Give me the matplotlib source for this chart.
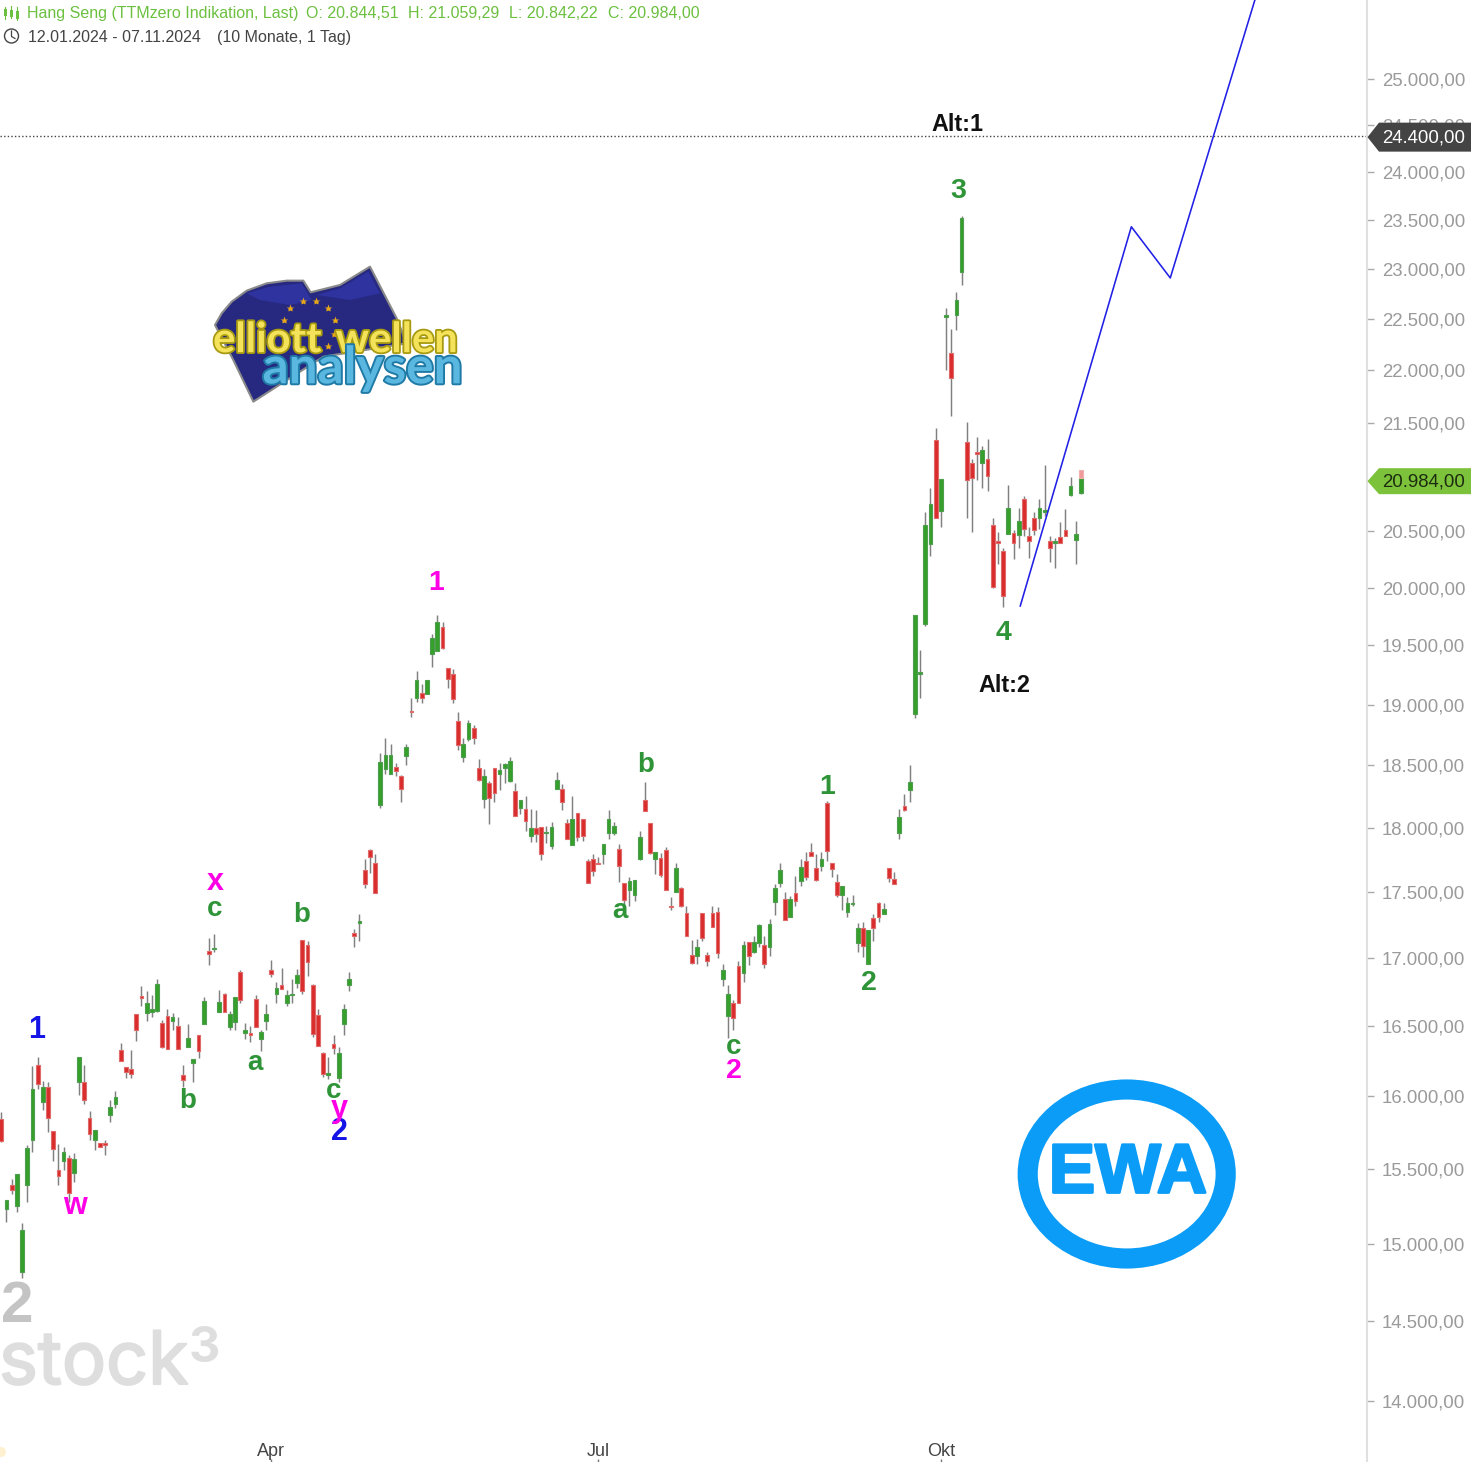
import numpy as np
import matplotlib
matplotlib.use("Agg")
import matplotlib.pyplot as plt
from matplotlib.patches import Polygon, Ellipse, Circle
from matplotlib.transforms import Affine2D
import matplotlib.patheffects as pe

W, H = 1471, 1462
plt.rcParams['font.family'] = ['Liberation Sans', 'DejaVu Sans']

highs = [15890,15293,15433,15465,15133,15660,16218,16282,16106,16100,15757,15673,15650,15597,15609,16282,16225,15897,15764,15680,15695,15972,16035,16380,16207,16330,16589,16792,16760,16725,16848,16545,16625,16596,16566,16225,16514,16268,16436,16717,17153,17184,16768,16746,16611,16710,16914,
16522,16500,16725,16472,16662,16989,16826,16929,16768,16848,16922,17140,17126,16811,16625,16317,16282,16436,16353,16662,16899,17221,17330,17754,17835,17795,
18602,18724,18675,18520,18423,18675,19057,19280,19170,19205,19597,19760,19697,19305,19297,18942,18724,18870,18830,18552,18468,18375,18478,18520,18520,18565,18358,18220,18252,18146,18138,18010,18016,18050,18447,18350,18073,18252,18122,18073,17754,17798,17775,17874,18138,
18050,17874,17568,17615,17592,17978,18367,18040,17814,17805,17850,17462,17725,17538,17395,17138,17145,17342,17047,17395,17385,16960,16803,16695,16981,17126,17124,17163,17258,17168,17295,17561,17725,17500,17470,17625,
17758,17810,17882,17798,17810,18212,17725,17637,17545,17462,17477,17266,17273,17214,17333,17425,17418,17685,17652,18146,18268,18504,
19760,19458,20673,20897,21454,20973,22605,22400,22765,23540,21510,21157,21368,21282,21350,20618,20490,20355,20925,20510,20708,20817,20536,20673,20790,21101,20455,20436,20580,20699,20993,20590,21059]
lows = [15685,15140,15327,15207,14775,15273,15618,16049,15903,15750,15554,15393,15493,15273,15413,16007,15945,15695,15632,15650,15597,15825,15922,16253,16130,16130,16394,16648,16537,16566,16603,16345,16338,16472,16338,16070,16353,16099,16275,16514,16952,17049,16603,16603,16472,16472,16672,
16408,16387,16493,16324,16472,16860,16672,16775,16648,16672,16782,16738,16870,16422,16360,16140,16120,16303,16099,16436,16760,17085,17126,17530,17645,17492,
18154,18431,18431,18415,18203,18504,18895,19025,19017,19085,19312,19455,19470,19135,19010,18626,18528,18700,18675,18375,18154,18031,18203,18301,18358,18367,18092,18114,17978,17890,17890,17750,17882,17835,18309,18138,17914,17866,17898,17898,17568,17625,17715,17715,17914,
17945,17578,17397,17397,17431,17750,18130,17798,17637,17615,17515,17365,17500,17385,17163,16960,16960,17126,16945,17231,17002,16792,16415,16472,16672,16826,16952,17039,17085,16929,17018,17325,17538,17287,17311,17397,
17545,17592,17780,17584,17660,17738,17615,17462,17365,17311,17395,17049,17011,16960,17126,17273,17333,17576,17561,17914,18130,18203,
18885,19059,19670,20280,20618,20537,22008,21566,22392,22840,20618,20490,20965,20897,20863,20000,20212,19827,20480,20257,20355,20455,20266,20464,20518,20636,20230,20177,20392,20455,20820,20212,20842]
opens = [15845,15227,15393,15247,14814,15393,15695,16225,15958,16070,15757,15493,15556,15576,15473,16099,16099,15847,15695,15680,15680,15868,15944,16330,16207,16197,16589,16722,16596,16603,16614,16522,16574,16537,16500,16148,16353,16239,16436,16514,17056,17071,16603,16738,16495,16530,16899,
16450,16450,16702,16408,16537,16914,16738,16803,16672,16731,16818,17140,17102,16803,16581,16310,16148,16373,16130,16514,16803,17191,17266,17668,17830,17725,
18179,18472,18431,18488,18415,18579,18943,19059,19093,19085,19430,19455,19660,19305,19255,18868,18568,18716,18807,18478,18228,18358,18478,18431,18480,18375,18293,18154,18146,17937,18000,18010,17960,17858,18309,18309,18040,17866,18122,18073,17738,17754,17725,17798,17962,
17962,17835,17568,17515,17477,17754,18223,18040,17754,17767,17828,17397,17500,17530,17342,17025,17018,17342,17025,17342,17350,16848,16574,16672,16945,16892,17124,17049,17116,17102,17085,17423,17568,17451,17311,17497,
17584,17740,17810,17685,17700,18195,17725,17576,17476,17345,17410,17116,17229,16960,17303,17418,17333,17685,17600,17961,18170,18301,
18920,19255,19680,20384,21335,20682,22520,22167,22545,22970,21320,21128,21228,21120,21157,20555,20418,20320,20480,20482,20464,20790,20455,20618,20618,20673,20410,20400,20446,20510,20830,20427,20844]
closes = [15690,15293,15355,15465,15093,15639,16049,16091,16070,15847,15635,15453,15618,15340,15569,16282,15975,15736,15764,15650,15665,15929,15993,16253,16172,16155,16472,16707,16670,16625,16811,16353,16338,16566,16338,16113,16415,16268,16324,16687,17034,17079,16680,16603,16589,16710,16695,
16472,16436,16493,16458,16589,16884,16782,16775,16725,16738,16877,16760,16973,16443,16360,16155,16162,16345,16310,16625,16848,17168,17282,17561,17775,17492,
18528,18587,18587,18455,18309,18650,18935,19205,19059,19205,19560,19705,19480,19212,19050,18667,18675,18845,18724,18383,18415,18236,18277,18463,18512,18540,18092,18220,18057,18000,17953,17798,17967,18010,18383,18203,17914,18073,17929,17937,17568,17660,17715,17874,18073,
18016,17705,17443,17585,17592,17929,18130,17805,17814,17630,17515,17388,17685,17397,17163,16967,17085,17153,16982,17231,17039,16914,16735,16559,16672,17102,17018,17124,17250,16960,17258,17530,17668,17287,17451,17431,
17693,17615,17780,17592,17754,17820,17677,17477,17545,17416,17418,17229,17094,17214,17229,17311,17373,17607,17561,18088,18138,18367,
19760,19270,20555,20745,20618,20973,22545,21925,22685,23520,20965,20982,21204,21244,21000,20010,20400,19930,20708,20398,20590,20518,20410,20509,20708,20690,20355,20410,20400,20455,20908,20473,20984]
forecast_idx = [196.3, 217.7, 225.2, 241.5]
forecast_val = [19840, 23430, 22910, 25880]
ytick_vals = [14000,14500,15000,15500,16000,16500,17000,17500,18000,18500,19000,19500,20000,20500,21500,22000,22500,23000,23500,24000,24500,25000]
xtick_idx = [52, 115, 181]
xtick_lab = ['Apr', 'Jul', 'Okt']
level = 24380
last_close = 20984

n = min(map(len, (highs, lows, opens, closes)))
x = np.arange(n)
o, c, hi, lo = [np.array(a[:n], float) for a in (opens, closes, highs, lows)]

fig = plt.figure(figsize=(W/100, H/100), dpi=100, facecolor='white')
ax = fig.add_axes([0, 0, 1367/W, 1])
ax.set_yscale('log')
ax.set_xlim(-0.25, 263.1)
ax.set_ylim(13630, 25880)

ax.vlines(x, lo, hi, color='#808080', lw=1.05, zorder=2)
up = c >= o
body_w = 0.72
ax.bar(x[up], (c-o)[up], bottom=o[up], width=body_w, color='#35a02a', edgecolor='#4f9e4f', lw=0.8, zorder=3)
ax.bar(x[~up], (o-c)[~up], bottom=c[~up], width=body_w, color='#d92c2c', edgecolor='#e06a6a', lw=0.8, zorder=3)
# pale red part of the running candle
ax.bar([x[-1]], [21059-20984], bottom=[20984], width=body_w, color='#f09a9a', edgecolor='#f0b0b0', lw=0.8, zorder=3)

ax.plot(forecast_idx, forecast_val, color='#2020e6', lw=1.15, zorder=4)
ax.axhline(level, color='#444444', lw=1.0, ls=(0, (1, 1.6)), zorder=1)

for s in ('top', 'left', 'bottom'):
    ax.spines[s].set_visible(False)
ax.spines['right'].set_color('#e0e0e0')
ax.spines['right'].set_linewidth(1.5)
ax.yaxis.tick_right()
ax.set_yticks(ytick_vals)
ax.set_yticklabels([f"{v:,.2f}".replace(',', 'X').replace('.', ',').replace('X', '.') for v in ytick_vals])
ax.yaxis.set_minor_locator(matplotlib.ticker.NullLocator())
ax.tick_params(axis='y', length=5, width=1, color='#aaaaaa', labelcolor='#9a9a9a', labelsize=13.4, pad=5.6)
ax.set_xticks(xtick_idx)
ax.set_xticklabels(xtick_lab)
ax.tick_params(axis='x', direction='in', length=2, width=1, color='#777777', labelcolor='#444444', labelsize=13, pad=-13.5)

pix = Affine2D().scale(1, -1).translate(0, H)

def T(px, py, s, **kw):
    kw.setdefault('ha', 'center')
    kw.setdefault('va', 'center')
    return fig.text(px, py + 1.5, s, transform=pix, **kw)

# header
HG = '#6cc040'
FS = 11.55
T(27, 12, 'Hang Seng (TTMzero Indikation, Last)', ha='left', color=HG, fontsize=FS)
T(306, 12, 'O: 20.844,51', ha='left', color=HG, fontsize=FS)
T(408, 12, 'H: 21.059,29', ha='left', color=HG, fontsize=FS)
T(509, 12, 'L: 20.842,22', ha='left', color=HG, fontsize=FS)
T(608, 12, 'C: 20.984,00', ha='left', color=HG, fontsize=FS)
T(28, 36, '12.01.2024 - 07.11.2024', ha='left', color='#444444', fontsize=FS)
T(217, 36, '(10 Monate, 1 Tag)', ha='left', color='#444444', fontsize=FS)

def L(xs, ys, color, lw=1.0):
    fig.add_artist(plt.Line2D(xs, ys, transform=pix, color=color, lw=lw))
for cx, y0, y1, b0, b1 in [(4.5, 7, 19, 10, 14), (10.5, 6, 18, 11, 15), (16.5, 7, 20, 12, 17)]:
    L([cx, cx], [y0, y1], HG, 0.8)
    L([cx, cx], [b0, b1], HG, 2.2)
fig.add_artist(Circle((11.5, 36), 7, transform=pix, fill=False, ec='#444444', lw=1.0))
L([11.5, 11.5, 15], [31, 36.5, 38.5], '#444444', 0.9)

# wave labels
BLUE, MAG, GRN, BLK = '#1414e6', '#ff00e6', '#2e9437', '#111111'
wave_labels = [('1', 37, 1028, BLUE, 22), ('2', 339, 1130, BLUE, 22),
               ('w', 75, 1205, MAG, 22), ('x', 215, 881, MAG, 22), ('y', 339, 1108, MAG, 22),
               ('1', 436, 581, MAG, 20.5), ('2', 734, 1070, MAG, 20.5),
               ('c', 215, 908, GRN, 20), ('b', 188, 1100, GRN, 20), ('a', 255, 1061, GRN, 20),
               ('b', 302, 914, GRN, 20), ('c', 334, 1090, GRN, 20), ('a', 620, 909, GRN, 20),
               ('b', 646, 763, GRN, 20), ('c', 734, 1046, GRN, 20), ('1', 827, 786, GRN, 20.5),
               ('2', 869, 982, GRN, 20.5), ('3', 958, 189, GRN, 20.5), ('4', 1004, 632, GRN, 20.5),
               ('Alt:1', 957, 123, BLK, 16.8), ('Alt:2', 1004, 684, BLK, 16.8)]
for s, px, py, col, fs in wave_labels:
    T(px, py, s, color=col, fontsize=fs, fontweight='bold', zorder=6)

# watermark
T(17, 1305, '2', color='#c4c4c4', fontsize=42, fontweight='bold')
T(-1, 1363, 'stock', ha='left', color='#dedede', fontsize=53, family=['Inter', 'DejaVu Sans'],
  path_effects=[pe.withStroke(linewidth=1.5, foreground='#dedede')])
T(204, 1348, '3', color='#dedede', fontsize=35, fontweight='bold', family=['Inter', 'DejaVu Sans'])
fig.add_artist(Circle((1, 1452), 5, transform=pix, fc='#fdf1d0', ec='none'))

# price tags
def tag(price, color, text, tcol, hgt, off=0):
    ypx = H - ax.transData.transform((0, price))[1] + off
    pts = [(1367.5, ypx), (1379, ypx-hgt/2), (W, ypx-hgt/2), (W, ypx+hgt/2), (1379, ypx+hgt/2)]
    fig.add_artist(Polygon(pts, closed=True, transform=pix, fc=color, ec='none', zorder=8))
    T(1465, ypx - 0.5, text, ha='right', color=tcol, fontsize=13.4, zorder=9)
tag(level, '#444444', '24.400,00', 'white', 29, off=1)
tag(last_close, '#7cc23a', '20.984,00', '#1c2c10', 26, off=3)

# Elliott-Wellen logo
def lz(a, b):
    return (190 + a/3, 250 + b/3)
flag = [lz(*p) for p in [(75,225),(95,190),(125,155),(170,122),(230,100),(290,92),(340,92),(362,127),(450,105),(540,50),(620,205),(650,280),(400,320),(190,455),(130,330)]]
fig.add_artist(Polygon(flag, closed=True, transform=pix, fc='#26297f', ec='#8a8a8a', lw=1.5, joinstyle='round'))
sheen = [lz(*p) for p in [(170,130),(240,110),(335,100),(365,150),(300,165),(210,150)]]
fig.add_artist(Polygon(sheen, closed=True, transform=pix, fc='#2f33a0', ec='none'))
sheen2 = [lz(*p) for p in [(380,135),(450,115),(535,65),(570,130),(480,150)]]
fig.add_artist(Polygon(sheen2, closed=True, transform=pix, fc='#2f33a0', ec='none'))
for a, b in [(300,175),(338,154),(379,153),(414,175),(434,210),(432,252),(414,288),(282,210)]:
    px, py = lz(a, b)
    fig.add_artist(plt.Line2D([px], [py], transform=pix, marker='*', ms=6, color='#e8a818', mec='none'))
T(*lz(232, 266), 'elliott', color='#f4e35a', fontsize=30, fontweight='bold', family=['Lato', 'DejaVu Sans'],
  path_effects=[pe.withStroke(linewidth=2.6, foreground='#a89a10')])
T(*lz(620, 266), 'wellen', color='#f4e35a', fontsize=30, fontweight='bold', family=['Lato', 'DejaVu Sans'],
  path_effects=[pe.withStroke(linewidth=2.6, foreground='#a89a10')])
T(*lz(518, 352), 'analysen', color='#5ab7e0', fontsize=37, fontweight='bold', family=['Lato', 'DejaVu Sans'],
  path_effects=[pe.withStroke(linewidth=2.8, foreground='#1f7aa6')])

# EWA logo
EWA = '#0a9cf7'
fig.add_artist(Ellipse((1126.7, 1174), 198, 169, transform=pix, fill=False, ec=EWA, lw=14.5))
T(1128, 1173, 'EWA', color=EWA, fontsize=50, fontweight='bold',
  path_effects=[pe.withStroke(linewidth=2, foreground=EWA)])

fig.savefig('out.png', dpi=100, facecolor='white')
print(n)
